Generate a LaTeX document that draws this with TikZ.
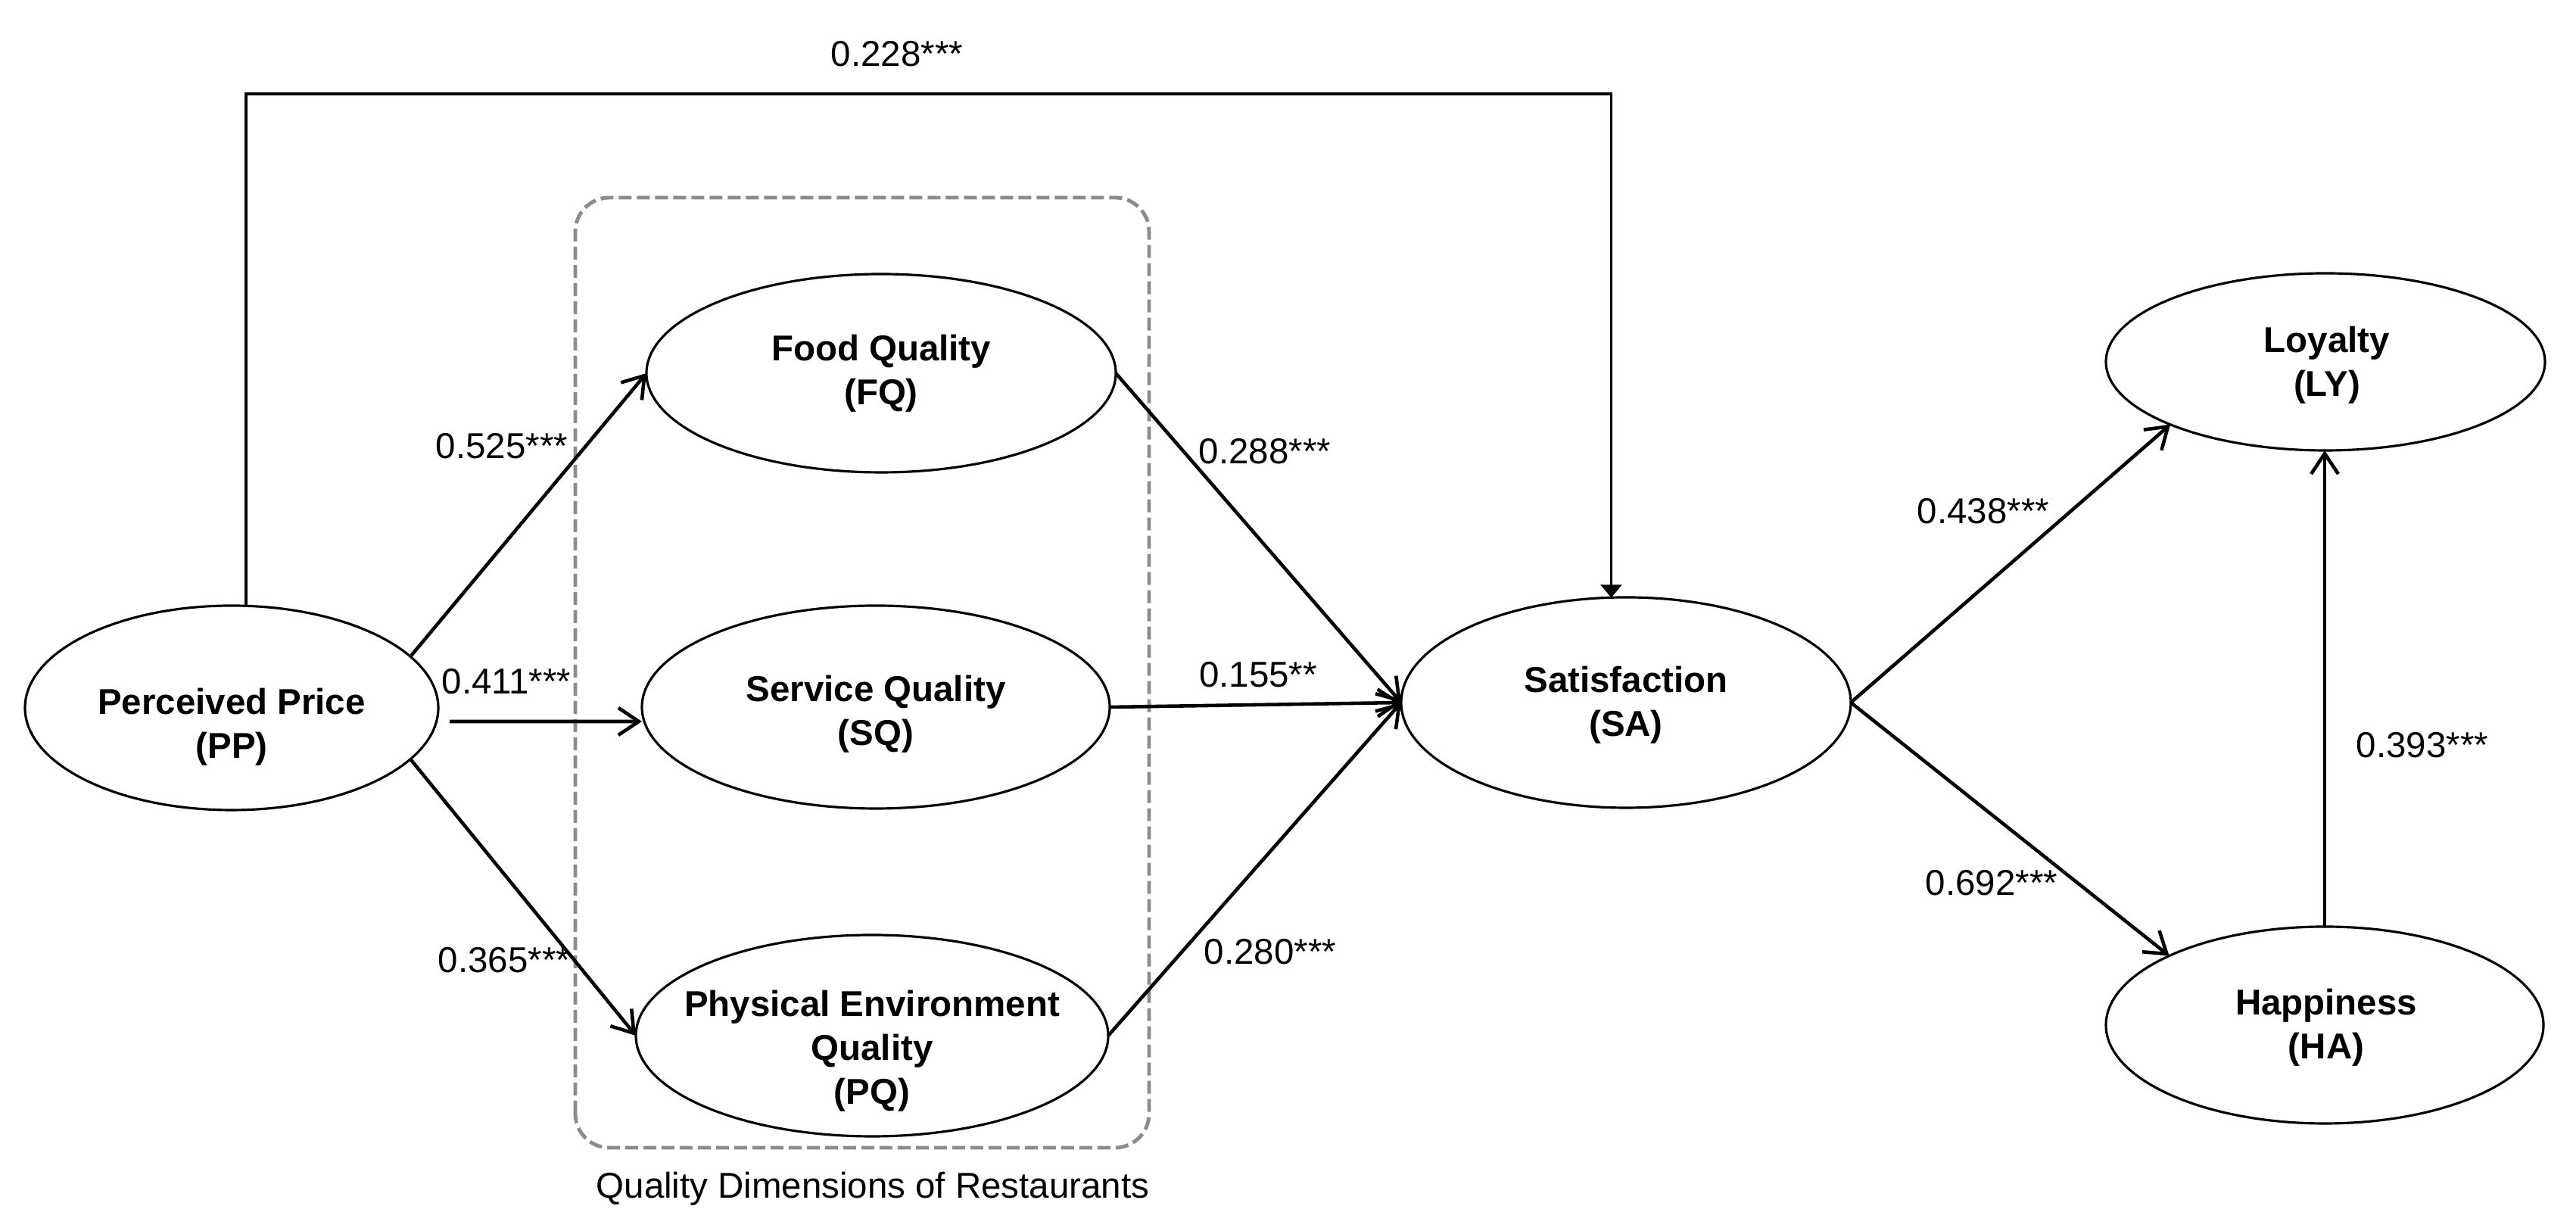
\documentclass[tikz,border=0pt]{standalone}
\usepackage{fontspec}
\setmainfont{Liberation Sans}
\usetikzlibrary{arrows.meta,calc,shapes.geometric}
\begin{document}
\begin{tikzpicture}[
  lat/.style={draw, line width=0.9pt, ellipse, inner sep=0pt, outer sep=0pt},
  txt/.style={font=\bfseries\fontsize{13.5}{16.5}\selectfont, align=center, inner sep=0pt},
  num/.style={font=\fontsize{13.5}{16}\selectfont, inner sep=0pt},
  arr/.style={line width=1.3pt, -{Straight Barb[length=0.27cm,width=0.36cm]}},
  toparr/.style={line width=1.1pt, -{Triangle[length=0.17cm,width=0.28cm]}},
  groupbox/.style={draw=black!45, line width=1.4pt, dash pattern=on 0.17cm off 0.07cm, rounded corners=0.45cm}
]
\useasboundingbox (0,0) rectangle (34.03,16.26);

% group box
\draw[groupbox] (7.60,1.10) rectangle (15.18,13.65);
\node[font=\fontsize{13.5}{16}\selectfont, inner sep=0pt] (cap) at (11.53,0.56) {Quality Dimensions of Restaurants};

% latent variables
\node[lat, minimum width=5.46cm, minimum height=2.70cm] (PP) at (3.06,6.91) {};
\node[lat, minimum width=6.20cm, minimum height=2.62cm] (FQ) at (11.64,11.33) {};
\node[lat, minimum width=6.18cm, minimum height=2.68cm] (SQ) at (11.57,6.92) {};
\node[lat, minimum width=6.24cm, minimum height=2.66cm] (PQ) at (11.52,2.58) {};
\node[lat, minimum width=5.94cm, minimum height=2.78cm] (SA) at (21.48,6.98) {};
\node[lat, minimum width=5.80cm, minimum height=2.34cm] (LY) at (30.72,11.48) {};
\node[lat, minimum width=5.78cm, minimum height=2.60cm] (HA) at (30.71,2.72) {};

% texts
\node[txt] (PPt) at (3.06,6.66) {Perceived Price\\(PP)};
\node[txt] (FQt) at (11.64,11.33) {Food Quality\\(FQ)};
\node[txt] (SQt) at (11.57,6.83) {Service Quality\\(SQ)};
\node[txt] (PQt) at (11.52,2.38) {Physical Environment\\Quality\\(PQ)};
\node[txt] (SAt) at (21.48,6.95) {Satisfaction\\(SA)};
\node[txt] (LYt) at (30.74,11.44) {Loyalty\\(LY)};
\node[txt] (HAt) at (30.73,2.69) {Happiness\\(HA)};

% top connector
\coordinate (ytop) at (0,15.02);
\draw[toparr] (PP.82) -- (PP.82 |- ytop) -- (SA.98.6 |- ytop) -- (SA.98.6);

% arrows
\draw[arr] (PP.16) -- (FQ.west);
\draw[arr] ([xshift=0.15cm,yshift=-0.18cm]PP.east) -- ([yshift=-0.19cm]SQ.west);
\draw[arr] (PP.-16) -- (PQ.west);
\draw[arr] (FQ.east) -- (SA.west);
\draw[arr] (SQ.east) -- (SA.west);
\draw[arr] (PQ.east) -- (SA.west);
\draw[arr] (SA.east) -- (LY.202.2);
\draw[arr] (SA.east) -- (HA.156.1);
\draw[arr] (HA.north) -- (HA.north |- LY.south);

% coefficients
\node[num] (l1) at (11.85,15.55) {0.228***};
\node[num] (l2) at (6.63,10.37) {0.525***};
\node[num] (l3) at (6.69,7.26) {0.411***};
\node[num] (l4) at (6.66,3.58) {0.365***};
\node[num] (l5) at (16.71,10.30) {0.288***};
\node[num] (l6) at (16.62,7.35) {0.155**};
\node[num] (l7) at (16.78,3.69) {0.280***};
\node[num] (l8) at (26.20,9.51) {0.438***};
\node[num] (l9) at (26.31,4.60) {0.692***};
\node[num] (l10) at (32.00,6.42) {0.393***};
\end{tikzpicture}
\end{document}
